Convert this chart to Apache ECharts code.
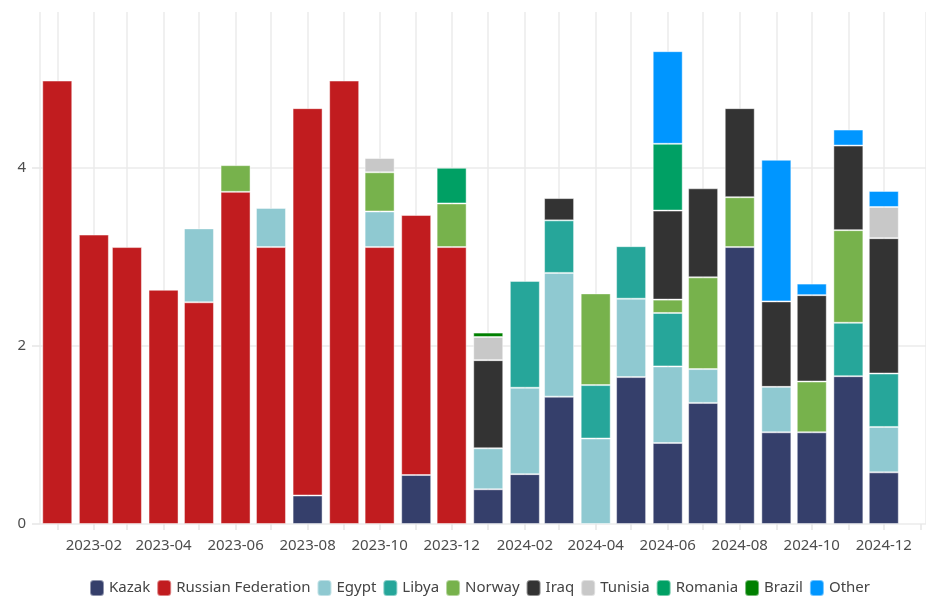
<!DOCTYPE html>
<html>
<head>
<meta charset="utf-8">
<script src="https://cdn.jsdelivr.net/npm/echarts@6/dist/echarts.min.js"></script>
<style>
html,body{margin:0;padding:0;background:#fff;}
#chart{width:926px;height:604px;}
</style>
</head>
<body>
<div id="chart"></div>
<script>
const months = ['2023-01','2023-02','2023-03','2023-04','2023-05','2023-06','2023-07','2023-08','2023-09','2023-10','2023-11','2023-12',
                '2024-01','2024-02','2024-03','2024-04','2024-05','2024-06','2024-07','2024-08','2024-09','2024-10','2024-11','2024-12'];
const kazak   = [null,null,null,null,null,null,null,0.32,null,null,0.55,null, 0.39,0.56,1.43,null,1.65,0.91,1.36,3.11,1.03,1.03,1.66,0.58];
const russia  = [4.98,3.25,3.11,2.63,2.49,3.73,3.11,4.35,4.98,3.11,2.92,3.11, null,null,null,null,null,null,null,null,null,null,null,null];
const egypt   = [null,null,null,null,0.83,null,0.44,null,null,0.40,null,null, 0.46,0.97,1.39,0.96,0.88,0.86,0.38,null,0.51,null,null,0.51];
const libya   = [null,null,null,null,null,null,null,null,null,null,null,null, null,1.20,0.59,0.60,0.59,0.60,null,null,null,null,0.60,0.60];
const norway  = [null,null,null,null,null,0.30,null,null,null,0.44,null,0.49, null,null,null,1.03,null,0.15,1.03,0.56,null,0.57,1.04,null];
const iraq    = [null,null,null,null,null,null,null,null,null,null,null,null, 0.99,null,0.25,null,null,1.00,1.00,1.00,0.96,0.97,0.95,1.52];
const tunisia = [null,null,null,null,null,null,null,null,null,0.16,null,null, 0.26,null,null,null,null,null,null,null,null,null,null,0.35];
const romania = [null,null,null,null,null,null,null,null,null,null,null,0.40, null,null,null,null,null,0.75,null,null,null,null,null,null];
const brazil  = [null,null,null,null,null,null,null,null,null,null,null,null, 0.05,null,null,null,null,null,null,null,null,null,null,null];
const other   = [null,null,null,null,null,null,null,null,null,null,null,null, null,null,null,null,null,1.04,null,null,1.59,0.13,0.18,0.18];

const seriesDefs = [
  ['Kazak', kazak, '#353F6B'],
  ['Russian Federation', russia, '#C11C1F'],
  ['Egypt', egypt, '#8FC9D1'],
  ['Libya', libya, '#26A69A'],
  ['Norway', norway, '#77B24C'],
  ['Iraq', iraq, '#333333'],
  ['Tunisia', tunisia, '#C8C8C8'],
  ['Romania', romania, '#00A064'],
  ['Brazil', brazil, '#008000'],
  ['Other', other, '#0096FF']
];

function toTime(m){ const p = m.split('-'); return Date.UTC(+p[0], +p[1]-1, 1); }

const series = seriesDefs.map(([name, vals, color]) => ({
  name: name,
  type: 'bar',
  stack: 'total',
  barWidth: 30,
  itemStyle: {color: color, borderColor: 'rgba(255,255,255,0.45)', borderWidth: 1},
  emphasis: {disabled: true},
  data: months.map((m, i) => [toTime(m), vals[i] == null ? '-' : vals[i]])
}));

// split-line colours per tick: [axis min, 24 month starts, 2025-01 (hidden), axis max]
const GRID = '#ebebeb';
const splitColors = [GRID].concat(months.map(() => GRID), ['rgba(0,0,0,0)', GRID]);

const DAY = 86400000;
// ECharts 6 widens a time axis by half a bar on each side; compensate so the
// visible range runs from about 2022-12-17 to 2025-01-05.
const PAD = 12.5 * DAY;
const chart = echarts.init(document.getElementById('chart'));
chart.setOption({
  useUTC: true,
  animation: false,
  textStyle: {fontFamily: 'Noto Sans'},
  grid: {left: 40, right: 0, top: 12, bottom: 80},
  legend: {
    bottom: 2,
    left: 84,
    icon: 'roundRect',
    itemWidth: 14,
    itemHeight: 16,
    itemGap: 6,
    textStyle: {fontSize: 15, color: '#444', fontFamily: 'Noto Sans'},
    data: seriesDefs.map(d => d[0])
  },
  xAxis: {
    type: 'time',
    min: Date.UTC(2022, 11, 17, 14) + PAD,
    max: Date.UTC(2025, 0, 5, 13) - PAD,
    splitNumber: 26,
    maxInterval: 31 * DAY,
    axisLine: {show: false},
    axisTick: {show: true, length: 6, lineStyle: {color: '#e6e6e6', width: 1.5}},
    splitLine: {show: true, lineStyle: {color: splitColors, width: 1.5}},
    axisLabel: {
      margin: 14,
      fontSize: 15,
      color: '#4d4d4d',
      fontFamily: 'Noto Sans',
      showMinLabel: false,
      showMaxLabel: false,
      formatter: function (v) {
        const d = new Date(v);
        if (d.getUTCDate() !== 1 || d.getUTCHours() !== 0) return '';
        const mo = d.getUTCMonth() + 1;
        if (mo % 2 !== 0) return '';
        return d.getUTCFullYear() + '-' + (mo < 10 ? '0' + mo : mo);
      }
    }
  },
  yAxis: {
    type: 'value',
    min: 0,
    max: 5.75,
    interval: 2,
    axisLine: {show: false},
    axisTick: {show: true, length: 8, lineStyle: {color: '#e6e6e6', width: 1.5}},
    splitLine: {show: true, showMaxLine: false, lineStyle: {color: GRID, width: 1.5}},
    axisLabel: {margin: 14, fontSize: 15, color: '#4d4d4d', fontFamily: 'Noto Sans', showMaxLabel: false}
  },
  series: series
});
</script>
</body>
</html>
